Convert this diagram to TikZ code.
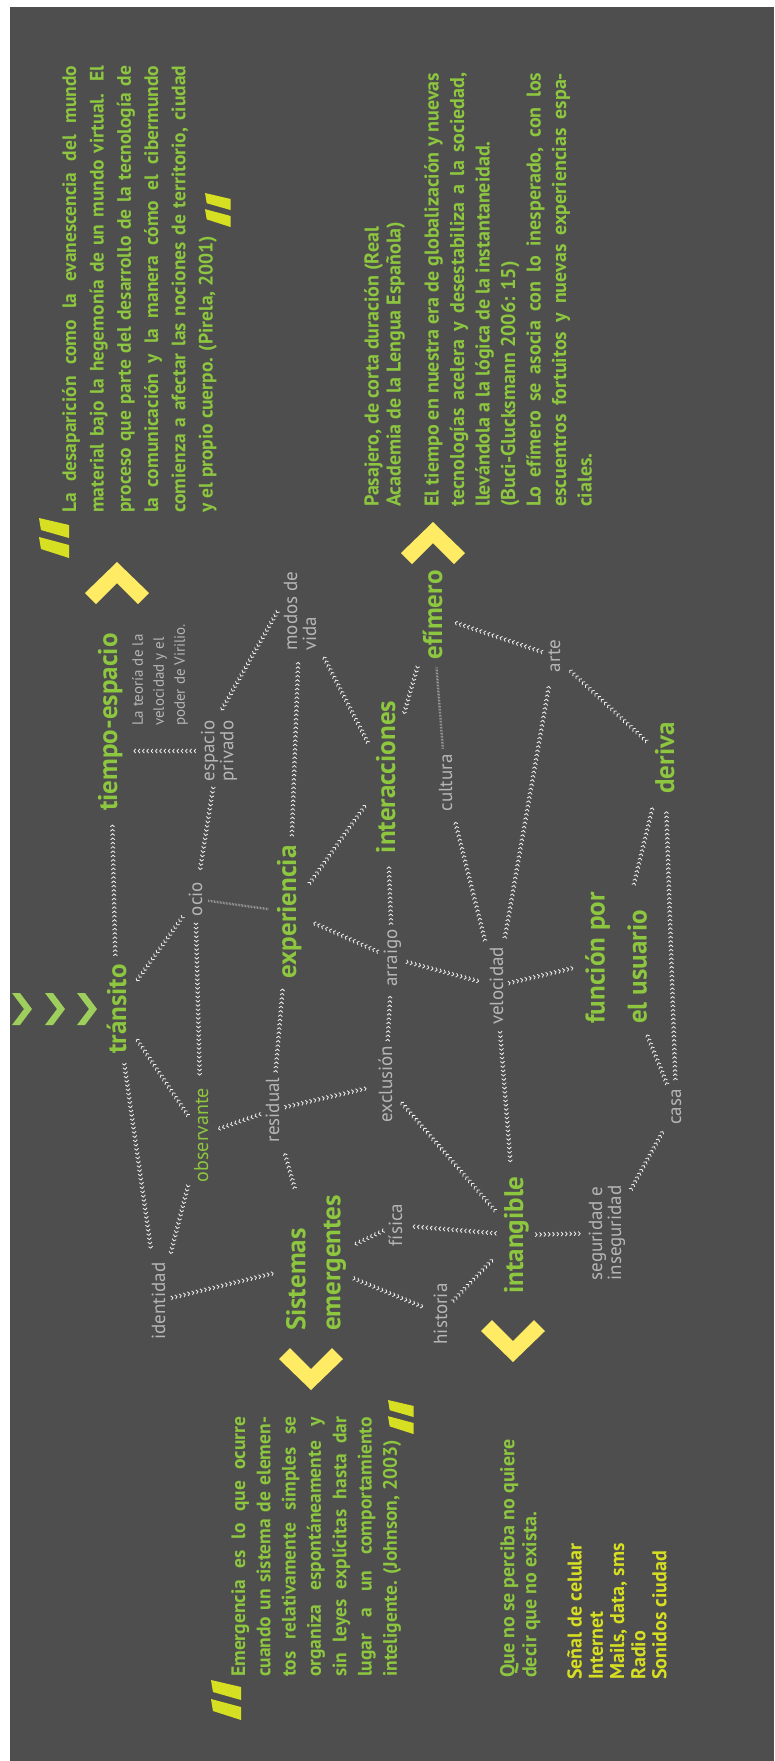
\documentclass[tikz,border=0pt]{standalone}
\usepackage{fontspec}
\setmainfont{PT Sans}
\usetikzlibrary{arrows.meta,decorations.markings}
\hyphenpenalty=10000
\tolerance=9999
\emergencystretch=20pt

\definecolor{fondo}{RGB}{78,78,78}
\definecolor{verde}{RGB}{141,198,63}
\definecolor{gris}{RGB}{182,182,182}
\definecolor{cheva}{RGB}{240,240,240}
\definecolor{amarillo}{RGB}{255,236,100}
\definecolor{lima}{RGB}{215,223,35}

\tikzset{
  concepto/.style={rotate=90, text=verde, font=\fontsize{27}{36}\selectfont\bfseries, inner sep=0pt, outer sep=8pt, align=left},
  termino/.style={rotate=90, text=gris, font=\fontsize{19}{19}\selectfont, inner sep=0pt, outer sep=6pt, align=left},
  parrafo/.style={rotate=90, anchor=north west, text=verde, inner sep=0pt, align=justify},
  enlace/.style={color=cheva, postaction={decorate}, decoration={markings, mark=between positions 0.02 and 0.98 step 4.3pt with {\arrow{Straight Barb[length=1.8pt,width=4.2pt,line width=0.8pt]}}}},
  punteado/.style={draw=gris, line width=2.4pt, dash pattern=on 0.5pt off 1pt},
  flecha/.pic={\fill[amarillo] (0,0) -- (32,31) -- (21,42) -- (0,21) -- (-21,42) -- (-32,31) -- cycle;},
  comillas/.pic={\fill[lima] (0,0) -- (30,7) -- (30,20) -- (2,12) -- cycle (0,19) -- (30,27) -- (30,40) -- (2,31) -- cycle;},
  avance/.pic={\fill[verde!85!white] (0,0) -- (8,0) -- (20,16) -- (8,32) -- (0,32) -- (12,16) -- cycle;}
}

\begin{document}
\begin{tikzpicture}[x=1pt, y=-1pt]
\useasboundingbox (0,0) rectangle (774,1761);
\fill[white] (0,0) rectangle (774,1761);
\fill[fondo] (10,7) rectangle (774,1761);

% textos largos
\pic at (39,518) {comillas};
\node[parrafo, text width=447pt, font=\fontsize{19.5}{27.3}\selectfont\bfseries] (cita1) at (62,513) {La desaparición como la evanescencia del mundo\linebreak material bajo la hegemonía de un mundo virtual. El\linebreak proceso que parte del desarrollo de la tecnología de\linebreak la comunicación y la manera cómo el cibermundo\linebreak comienza a afectar las nociones de territorio, ciudad\linebreak y el propio cuerpo. (Pirela, 2001)};
\pic[scale=0.85] at (205,193) {comillas};

\node[parrafo, align=left, font=\fontsize{20}{22}\selectfont\bfseries] (defin) at (364,507) {Pasajero, de corta duración (Real\\Academia de la Lengua Española)};
\node[parrafo, text width=434pt, font=\fontsize{20}{25.5}\selectfont\bfseries] (cita2) at (424,507) {El tiempo en nuestra era de globalización y nuevas\linebreak tecnologías acelera y desestabiliza a la sociedad,\linebreak llevándola a la lógica de la instantaneidad.\\(Buci-Glucksmann 2006: 15)\\Lo efímero se asocia con lo inesperado, con los\linebreak escuentros fortuitos y nuevas experiencias espa-\linebreak ciales.};

\pic at (211,1680) {comillas};
\node[parrafo, text width=260pt, font=\fontsize{19.5}{25.3}\selectfont\bfseries] (cita3) at (231,1677) {Emergencia es lo que ocurre\linebreak cuando un sistema de elemen-\linebreak tos relativamente simples se\linebreak organiza espontáneamente y\linebreak sin leyes explícitas hasta dar\linebreak lugar a un comportamiento\linebreak inteligente. (Johnson, 2003)};
\pic[scale=0.85] at (388,1400) {comillas};

\node[parrafo, align=left, font=\fontsize{20}{22}\selectfont\bfseries] (percibe) at (500,1678) {Que no se perciba no quiere\\decir que no exista.};
\node[parrafo, align=left, text=lima, font=\fontsize{20}{21.2}\selectfont\bfseries] (senales) at (567,1680) {Señal de celular\\Internet\\Mails, data, sms\\Radio\\Sonidos ciudad};

% marcas
\pic at (117,562) {flecha};
\pic at (433,522) {flecha};
\pic[rotate=180] at (311,1390) {flecha};
\pic[rotate=180] at (513,1362) {flecha};
\pic at (12,993) {avance};
\pic at (45,993) {avance};
\pic at (77,993) {avance};

% conceptos
\node[concepto, anchor=base] (te) at (117,722) {tiempo-espacio};
\node[concepto, anchor=base] (tr) at (126,1009) {tránsito};
\node[concepto, anchor=base] (exp) at (296,912) {experiencia};
\node[concepto, anchor=base] (inter) at (395,777) {interacciones};
\node[concepto, anchor=base] (ef) at (442,615) {efímero};
\node[concepto, anchor=base] (der) at (674,758) {deriva};
\node[concepto, anchor=base] (intg) at (523,1235) {intangible};
\node[concepto] (sis) at (316,1263) {Sistemas\\[-1pt]emergentes};
\node[concepto] (fun) at (616,958) {función por\\[6pt]el usuario};

% terminos
\node[termino, font=\fontsize{15}{21}\selectfont] (teoria) at (160,675) {La teoría de la\\velocidad y el\\poder de Virilio.};
\node[termino] (ep) at (219,751) {espacio\\privado};
\node[termino] (modos) at (300,611) {modos de\\vida};
\node[termino] (seg) at (607,1233) {seguridad e\\inseguridad};
\node[termino, anchor=base] (ocio) at (202,899) {ocio};
\node[termino, anchor=base] (iden) at (165,1301) {identidad};
\node[termino, anchor=base] (res) at (279,1110) {residual};
\node[termino, anchor=base] (arr) at (397,958) {arraigo};
\node[termino, anchor=base] (excl) at (392,1084) {exclusión};
\node[termino, anchor=base] (vel) at (503,986) {velocidad};
\node[termino, anchor=base] (cult) at (452,783) {cultura};
\node[termino, anchor=base] (arte) at (560,656) {arte};
\node[termino, anchor=base] (casa) at (681,1107) {casa};
\node[termino, anchor=base] (fis) at (402,1225) {física};
\node[termino, anchor=base] (hist) at (447,1314) {historia};
\node[termino, text=verde, font=\fontsize{20}{20}\selectfont, anchor=base] (obs) at (208,1135) {observante};

% enlaces
\path[enlace] (tr) -- (te);
\path[enlace] (ocio) -- (tr);
\path[enlace] (ep) -- (ocio);
\path[enlace] (ocio) -- (obs);
\draw[punteado] (ocio) -- (exp);
\path[enlace] (ep.north) -- (ep.north -| te.south);
\path[enlace] (modos.north) -- (ep.east);
\path[enlace] (exp) -- (modos);
\path[enlace] (inter) -- (modos);
\path[enlace] (exp) -- (inter);
\path[enlace] (arr) -- (exp);
\path[enlace] (res) -- (exp);
\path[enlace] (res) -- (obs);
\path[enlace] (res) -- (excl);
\path[enlace] (sis) -- (res);
\path[enlace] (obs) -- (tr);
\path[enlace] (tr) -- (iden);
\path[enlace] (obs) -- (iden);
\path[enlace] (iden) -- (sis);
\path[enlace] (fis) -- (sis);
\path[enlace] (intg) -- (fis);
\path[enlace] (sis) -- (hist);
\path[enlace] (hist) -- (intg);
\path[enlace] (intg) -- (seg);
\path[enlace] (seg) -- (casa);
\path[enlace] (excl) -- (arr);
\path[enlace] (arr) -- (inter);
\path[enlace] (arr) -- (vel);
\path[enlace] (vel) -- (fun);
\path[enlace] (vel) -- (intg);
\path[enlace] (intg) -- (excl);
\path[enlace] (vel) -- (cult);
\path[enlace] (vel) -- (arte);
\path[enlace] (ef) -- (inter);
\draw[punteado] (cult) -- (ef);
\path[enlace] (arte) -- (ef);
\path[enlace] (der) -- (arte);
\path[enlace] (fun) -- (der);
\path[enlace] (casa) -- (der);
\path[enlace] (casa) -- (fun);
\end{tikzpicture}
\end{document}
